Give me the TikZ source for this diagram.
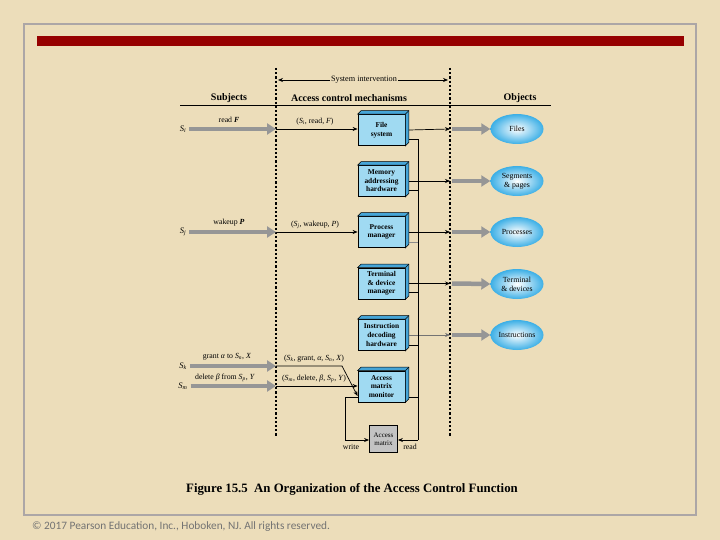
\documentclass[tikz,border=0pt]{standalone}
\usepackage{fontspec}
\setmainfont{Liberation Serif}
\newfontfamily\carl{Carlito}
\usetikzlibrary{arrows.meta,shapes.geometric,calc}
\definecolor{bg}{RGB}{236,221,186}
\definecolor{fr}{RGB}{172,166,166}
\definecolor{redbar}{RGB}{150,0,0}
\definecolor{boxfront}{RGB}{160,218,242}
\definecolor{boxside}{RGB}{70,165,215}
\definecolor{fat}{RGB}{150,150,150}
\definecolor{ellout}{RGB}{60,175,230}
\definecolor{amgray}{RGB}{195,195,195}
\newcommand\subj[1]{\textit{S}\textsubscript{\textit{#1}}}
\newcommand\extrude[1]{%
  \filldraw[fill=boxside,draw=black,line width=0.6pt] (#1.north west) -- ++(3.5pt,3.5pt) -- ($(#1.north east)+(3.5pt,3.5pt)$) -- ($(#1.south east)+(3.5pt,3.5pt)$) -- (#1.south east) -- (#1.north east) -- cycle;
  \draw[line width=0.6pt] (#1.north east) -- ++(3.5pt,3.5pt);}
\tikzset{
  mech/.style={draw=black, line width=0.8pt, fill=boxfront, minimum width=47pt, minimum height=31pt, inner sep=0.5pt, align=center, font=\fontsize{7.4}{8.6}\selectfont\bfseries},
  obj/.style={ellipse, shading=radial, inner color=white, outer color=ellout, minimum width=53pt, minimum height=30pt, inner sep=0pt, align=center, font=\fontsize{7.8}{8.8}\selectfont},
  fatarrow/.style={draw=fat, line width=4.5pt, -{Triangle[length=9pt,width=11pt]}},
  thinarrow/.style={draw=black, line width=0.7pt, -{Stealth[length=5pt,width=4pt]}},
  busline/.style={draw=black, line width=0.7pt},
  sep/.style={draw=black, line width=1.3pt, dash pattern=on 2.2pt off 2pt},
  lbl/.style={font=\fontsize{7.8}{9}\selectfont, inner sep=1pt},
  hdr/.style={font=\fontsize{10}{12}\selectfont\bfseries, inner sep=1pt}
}
\begin{document}
\begin{tikzpicture}[x=1pt,y=-1pt]
\useasboundingbox (0,0) rectangle (720,540);
\fill[bg] (0,0) rectangle (720,540);
\draw[fr, line width=1.8pt] (24,24) rectangle (696,515);
\fill[redbar] (37,36) rectangle (684,46);

% separators
\coordinate (d1t) at (276,68); \coordinate (d1b) at (276,437);
\coordinate (d2t) at (450,68); \coordinate (d2b) at (450,437);
\draw[sep] (d1t) -- (d1b);
\draw[sep] (d2t) -- (d2b);

% system intervention
\coordinate (si1) at (278,80); \coordinate (si2) at (448,80);
\draw[line width=0.7pt, {Stealth[length=5pt,width=4pt]}-{Stealth[length=5pt,width=4pt]}] (si1) -- (si2);
\node[lbl, fill=bg, inner sep=1.5pt, font=\fontsize{8.2}{9}\selectfont] (sitxt) at (364,80) {System intervention};

% headers
\coordinate (hl1) at (180,106); \coordinate (hl2) at (551,106);
\draw[line width=1pt] (hl1) -- (hl2);
\node[hdr] (hs) at (229,98) {Subjects};
\node[hdr] (ha) at (349,98) {Access control mechanisms};
\node[hdr] (ho) at (520,98) {Objects};

% mechanism boxes
\node[mech] (fs) at (381.5,130) {File\\system};
\node[mech] (mem) at (381.5,181) {Memory\\addressing\\hardware};
\node[mech] (pm) at (381.5,232) {Process\\manager};
\node[mech] (td) at (381.5,283.5) {Terminal\\\& device\\manager};
\node[mech] (id) at (381.5,335) {Instruction\\decoding\\hardware};
\node[mech] (amm) at (381.5,386.5) {Access\\matrix\\monitor};
\foreach \b in {fs,mem,pm,td,id,amm} {\extrude{\b}}
\node[draw=black, line width=0.8pt, fill=amgray, minimum width=28pt, minimum height=27pt, inner sep=0.5pt, align=center, font=\fontsize{7}{8}\selectfont] (am) at (383.5,439) {Access\\matrix};

% objects
\node[obj] (files) at (517,129) {Files};
\node[obj] (seg) at (517,181) {Segments\\\& pages};
\node[obj] (proc) at (517,232) {Processes};
\node[obj] (term) at (517,284) {Terminal\\\& devices};
\node[obj] (instr) at (517,335) {Instructions};

% subjects
\node[lbl, font=\fontsize{8.5}{9}\selectfont] (si) at (183,129) {\subj{i}};
\node[lbl, font=\fontsize{8.5}{9}\selectfont] (sj) at (183,232) {\subj{j}};
\node[lbl, font=\fontsize{8.5}{9}\selectfont] (sk) at (183,366) {\subj{k}};
\node[lbl, font=\fontsize{8.5}{9}\selectfont] (sm) at (183,386) {\subj{m}};

% fat arrows left
\coordinate (ai) at (276,129); \coordinate (aj) at (276,232);
\coordinate (ak) at (276,366); \coordinate (am2) at (276,386);
\draw[fatarrow] (si.east) ++(2pt,0) -- (ai);
\draw[fatarrow] (sj.east) ++(2pt,0) -- (aj);
\draw[fatarrow] (sk.east) ++(2pt,0) -- (ak);
\draw[fatarrow] (sm.east) ++(2pt,0) -- (am2);
\node[lbl] at (229,120) {read \textbf{\textit{F}}};
\node[lbl] at (229,223) {wakeup \textbf{\textit{P}}};
\node[lbl] at (227,357) {grant \textit{α} to \subj{n}, \textit{X}};
\node[lbl] at (225,377.5) {delete \textit{β} from \subj{p}, \textit{Y}};

% thin arrows into boxes
\draw[thinarrow] (ai) -- (fs.west |- ai);
\draw[thinarrow] (aj) -- (pm.west |- aj);
\coordinate (kb) at (342,366);
\draw[thinarrow] (ak) -- (kb) -- ($(amm.west)+(0,9.5)$);
\draw[thinarrow] (am2) -- (amm.west |- am2);
\node[lbl] at (315,121.5) {(\subj{i}, read, \textit{F})};
\node[lbl] at (315,225) {(\subj{j}, wakeup, \textit{P})};
\node[lbl] at (314,359) {(\subj{k}, grant, \textit{α}, \subj{n}, \textit{X})};
\node[lbl] at (314,379) {(\subj{m}, delete, \textit{β}, \subj{p}, \textit{Y})};

% outputs to separator
\coordinate (o1) at (450,129); \coordinate (o2) at (450,181);
\coordinate (o3) at (450,232); \coordinate (o4) at (450,283.5);
\coordinate (o5) at (450,335);
\draw[thinarrow] ($(fs.east)+(3.5,0)$) -- (o1);
\draw[thinarrow] ($(mem.east)+(3.5,0)$) -- (o2);
\draw[thinarrow] ($(pm.east)+(3.5,0)$) -- (o3);
\draw[thinarrow] ($(td.east)+(3.5,0)$) -- (o4);
\draw[thinarrow, draw=black!55, -{Stealth[length=5pt,width=4pt,fill=black]}] ($(id.east)+(3.5,0)$) -- (o5);
\draw[fatarrow] (452,129) -- (files.west);
\draw[fatarrow] (452,181) -- (seg.west);
\draw[fatarrow] (452,232) -- (proc.west);
\draw[fatarrow] (452,283.5) -- (term.west);
\draw[fatarrow] (452,335) -- (instr.west);

% bus
\coordinate (bt) at (418,139);
\coordinate (bb) at (418,440);
\draw[busline] ($(fs.east)+(3.5,9)$) -- (bt) -- (bb);
\draw[busline] ($(mem.east)+(3.5,9)$) -- (bt |- {$(mem.east)+(0,9)$});
\draw[busline, draw=black!45] ($(pm.east)+(3.5,10)$) -- (bt |- {$(pm.east)+(0,10)$});
\draw[busline] ($(td.east)+(3.5,9)$) -- (bt |- {$(td.east)+(0,9)$});
\draw[busline] ($(id.east)+(3.5,10)$) -- (bt |- {$(id.east)+(0,10)$});
\draw[busline] ($(amm.east)+(3.5,10.5)$) -- (bt |- {$(amm.east)+(0,10.5)$});
\draw[thinarrow] (bb) -- (am.east |- bb);
\coordinate (wl) at (345,397);
\draw[thinarrow] ($(amm.west)+(0,10.5)$) -- (wl) |- (am.west |- bb);
\node[lbl] (wr) at (351,447) {write};
\node[lbl] (rd) at (410,447) {read};

% caption
\node[font=\fontsize{12.8}{14}\selectfont\bfseries, inner sep=0pt] (cap) at (352,489) {Figure 15.5\ \ An Organization of the Access Control Function};
\node[anchor=west, font=\carl\fontsize{11.3}{12}\selectfont, text=black!55, inner sep=0pt] (copy) at (32,527) {© 2017 Pearson Education, Inc., Hoboken, NJ. All rights reserved.};
\end{tikzpicture}
\end{document}
